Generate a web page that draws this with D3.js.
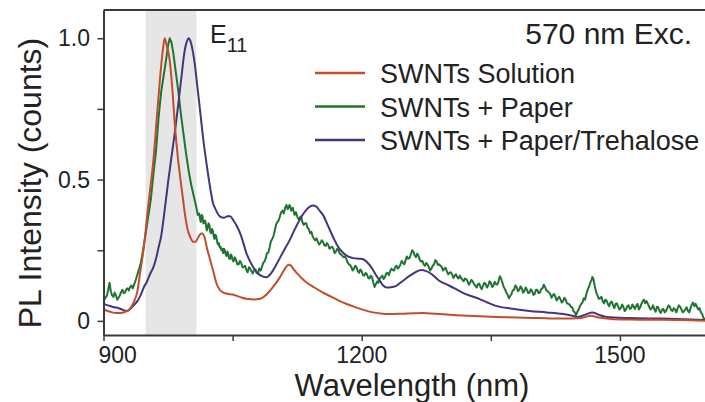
<!DOCTYPE html>
<html>
<head>
<meta charset="utf-8">
<script src="https://cdn.jsdelivr.net/npm/d3@7"></script>
<style>
  html, body { margin: 0; padding: 0; background: #fff; }
  svg { display: block; }
  text { font-family: "Liberation Sans", Arial, Helvetica, sans-serif; fill: #222; }
</style>
</head>
<body>
<svg id="chart" width="705" height="402"></svg>
<script>
// PL spectra, 570 nm excitation: [wavelength (nm), normalised intensity]
const solution = [
  [900,0.040],[905,0.035],[910,0.030],[915,0.028],[920,0.028],[925,0.032],[930,0.040],[935,0.065],
  [939,0.100],[943,0.180],[946,0.240],[948,0.290],[951,0.380],[954,0.460],[958,0.570],[962,0.720],
  [966,0.870],[969,0.960],[971,1.000],[973,0.980],[977,0.920],[980,0.820],[983,0.690],[986,0.590],
  [989,0.510],[992,0.440],[995,0.370],[998,0.320],[1001,0.295],[1004,0.280],[1007,0.280],[1010,0.295],
  [1014,0.310],[1017,0.300],[1020,0.260],[1024,0.215],[1028,0.170],[1031,0.135],[1035,0.110],[1039,0.100],
  [1045,0.095],[1050,0.093],[1058,0.085],[1066,0.078],[1075,0.076],[1082,0.078],[1090,0.095],[1097,0.120],
  [1103,0.145],[1108,0.170],[1112,0.190],[1115,0.199],[1118,0.195],[1121,0.182],[1125,0.168],[1130,0.152],
  [1136,0.136],[1145,0.118],[1155,0.100],[1165,0.085],[1174,0.071],[1184,0.058],[1194,0.047],[1204,0.037],
  [1213,0.030],[1222,0.026],[1232,0.024],[1245,0.025],[1260,0.027],[1270,0.028],[1280,0.026],[1295,0.023],
  [1310,0.020],[1330,0.017],[1356,0.014],[1380,0.012],[1405,0.010],[1433,0.008],[1455,0.010],[1466,0.018],
  [1475,0.012],[1490,0.007],[1511,0.005],[1540,0.004],[1570,0.003],[1600,0.000]
];

const paper = [
  [900,0.070],[902,0.080],[904,0.090],[905.5,0.110],[907,0.135],[908.5,0.105],[910,0.090],[911.5,0.085],
  [913,0.100],[914.5,0.090],[916,0.075],[917.5,0.082],[919,0.090],[920.5,0.102],[922,0.110],[923.5,0.098],
  [925,0.100],[926.5,0.112],[928,0.115],[929.5,0.108],[931,0.120],[932.5,0.125],[934,0.115],[935.5,0.128],
  [937,0.140],[940,0.170],[943,0.200],[946,0.250],[949,0.310],[952,0.370],[955,0.430],[958,0.520],
  [961,0.600],[964,0.720],[967,0.810],[970,0.870],[973,0.930],[975,0.975],[977,1.000],[979,0.985],
  [981,0.950],[984,0.880],[987,0.810],[990,0.730],[993,0.660],[996,0.590],[999,0.530],[1002,0.480],
  [1005,0.440],[1008,0.400],[1009.5,0.375],[1011,0.380],[1012,0.365],[1013,0.350],[1014,0.375],[1015,0.370],
  [1016,0.345],[1017,0.350],[1018,0.355],[1019,0.340],[1020,0.320],[1021,0.330],[1022,0.345],[1023,0.340],
  [1024,0.315],[1025,0.310],[1026,0.325],[1027,0.320],[1028,0.300],[1029,0.290],[1030,0.305],[1031,0.300],
  [1032,0.280],[1033,0.270],[1034,0.275],[1035,0.260],[1036,0.262],[1037,0.250],[1038,0.255],[1039,0.240],
  [1040,0.255],[1041,0.250],[1042,0.235],[1043,0.230],[1044,0.245],[1045,0.235],[1046,0.220],[1047,0.220],
  [1048,0.235],[1049,0.230],[1050,0.215],[1051,0.210],[1052.5,0.225],[1054,0.215],[1055.5,0.200],[1057,0.200],
  [1058.5,0.212],[1060,0.205],[1061.5,0.190],[1063,0.190],[1064.5,0.195],[1066,0.180],[1067.5,0.172],[1069,0.190],
  [1070.5,0.185],[1072,0.175],[1073.5,0.168],[1075,0.180],[1076.5,0.182],[1078,0.170],[1079.5,0.168],[1081,0.185],
  [1082.5,0.178],[1084,0.190],[1085.5,0.205],[1087,0.210],[1088.5,0.222],[1090,0.240],[1091.5,0.242],[1093,0.260],
  [1094.5,0.282],[1096,0.290],[1097.5,0.300],[1099,0.320],[1100.5,0.340],[1102,0.350],[1103.5,0.355],[1105,0.370],
  [1106.5,0.385],[1108,0.390],[1109.5,0.380],[1111,0.400],[1112.5,0.410],[1114,0.395],[1115,0.400],[1116,0.410],
  [1117,0.405],[1118,0.390],[1119,0.395],[1120,0.400],[1121,0.385],[1122,0.375],[1123.5,0.385],[1125,0.370],
  [1126.5,0.360],[1128,0.365],[1129.5,0.370],[1131,0.350],[1132.5,0.340],[1134,0.345],[1135.5,0.345],[1137,0.330],
  [1138.5,0.325],[1140,0.310],[1141.5,0.315],[1143,0.300],[1144.5,0.290],[1146,0.285],[1147.5,0.292],[1149,0.280],
  [1150.5,0.270],[1152,0.275],[1153.5,0.285],[1155,0.280],[1156.5,0.268],[1158,0.265],[1159.5,0.275],[1161,0.270],
  [1162.5,0.255],[1164,0.260],[1165.5,0.262],[1167,0.255],[1168.5,0.240],[1170,0.245],[1171.5,0.255],[1173,0.250],
  [1174.5,0.238],[1176,0.235],[1177.5,0.230],[1179,0.225],[1180.5,0.228],[1182,0.220],[1183.5,0.208],[1185,0.200],
  [1186.5,0.198],[1188,0.190],[1189.5,0.178],[1191,0.185],[1192.5,0.195],[1194,0.190],[1195.5,0.175],[1197,0.170],
  [1198.5,0.182],[1200,0.175],[1201.5,0.162],[1203,0.160],[1204.5,0.170],[1206,0.165],[1207.5,0.152],[1209,0.150],
  [1210.5,0.160],[1212,0.155],[1213.5,0.135],[1215,0.120],[1216.5,0.130],[1218,0.140],[1219.5,0.135],[1221,0.150],
  [1222.5,0.155],[1224,0.160],[1225.5,0.148],[1227,0.155],[1228.5,0.168],[1230,0.170],[1231.5,0.162],[1233,0.175],
  [1234.5,0.185],[1236,0.180],[1237.5,0.178],[1239,0.190],[1240.5,0.195],[1242,0.185],[1243.5,0.190],[1245,0.200],
  [1246.5,0.212],[1248,0.205],[1249.5,0.200],[1251,0.215],[1252.5,0.228],[1254,0.220],[1255.5,0.222],[1257,0.235],
  [1258.5,0.250],[1260,0.245],[1261.5,0.232],[1263,0.225],[1264.5,0.238],[1266,0.230],[1267.5,0.215],[1269,0.210],
  [1270.5,0.212],[1272,0.200],[1273.5,0.195],[1275,0.205],[1276.5,0.200],[1278,0.190],[1279.5,0.178],[1281,0.185],
  [1282.5,0.195],[1284,0.200],[1285.5,0.215],[1287,0.210],[1288.5,0.198],[1290,0.200],[1291.5,0.195],[1293,0.190],
  [1294.5,0.178],[1296,0.185],[1297.5,0.188],[1299,0.175],[1300.5,0.165],[1302,0.170],[1303.5,0.172],[1305,0.165],
  [1306.5,0.152],[1308,0.160],[1309.5,0.165],[1311,0.155],[1312.5,0.150],[1314,0.160],[1315.5,0.152],[1317,0.145],
  [1318.5,0.140],[1320,0.150],[1321.5,0.148],[1323,0.140],[1324.5,0.128],[1326,0.135],[1327.5,0.145],[1329,0.140],
  [1330.5,0.130],[1332,0.125],[1333.5,0.118],[1335,0.130],[1336.5,0.132],[1338,0.120],[1339.5,0.112],[1341,0.125],
  [1342.5,0.135],[1344,0.130],[1345.5,0.118],[1347,0.125],[1348.5,0.140],[1350,0.135],[1351.5,0.120],[1353,0.125],
  [1354.5,0.138],[1356,0.130],[1357.5,0.128],[1359,0.140],[1360.5,0.158],[1362,0.150],[1363.5,0.135],[1365,0.120],
  [1366.5,0.112],[1368,0.100],[1369.5,0.092],[1371,0.080],[1372.5,0.088],[1374,0.095],[1375.5,0.108],[1377,0.110],
  [1378.5,0.125],[1380,0.120],[1381.5,0.105],[1383,0.110],[1384.5,0.122],[1386,0.115],[1387.5,0.100],[1389,0.105],
  [1390.5,0.118],[1392,0.110],[1393.5,0.098],[1395,0.100],[1396.5,0.112],[1398,0.105],[1399.5,0.092],[1401,0.095],
  [1402.5,0.110],[1404,0.110],[1405.5,0.098],[1407,0.100],[1408.5,0.112],[1410,0.115],[1411.5,0.128],[1413,0.120],
  [1414.5,0.108],[1416,0.105],[1417.5,0.100],[1419,0.095],[1420.5,0.082],[1422,0.090],[1423.5,0.095],[1425,0.085],
  [1426.5,0.072],[1428,0.080],[1429.5,0.085],[1431,0.075],[1432.5,0.065],[1434,0.070],[1435.5,0.082],[1437,0.075],
  [1438.5,0.062],[1440,0.060],[1441.5,0.058],[1443,0.050],[1444.5,0.048],[1446,0.035],[1447.5,0.030],[1449,0.020],
  [1450.5,0.032],[1452,0.040],[1453.5,0.052],[1455,0.060],[1456.5,0.065],[1458,0.080],[1459.5,0.075],[1461,0.095],
  [1462.5,0.110],[1464,0.120],[1465.5,0.135],[1467,0.145],[1468,0.155],[1469,0.150],[1470,0.135],[1471,0.120],
  [1472.5,0.100],[1474,0.090],[1475.5,0.078],[1477,0.080],[1478.5,0.085],[1480,0.070],[1481.5,0.062],[1483,0.075],
  [1484.5,0.072],[1486,0.060],[1487.5,0.052],[1489,0.065],[1490.5,0.068],[1492,0.055],[1493.5,0.045],[1495,0.060],
  [1496.5,0.062],[1498,0.050],[1499.5,0.040],[1501,0.045],[1502.5,0.058],[1504,0.050],[1505.5,0.035],[1507,0.040],
  [1508.5,0.052],[1510,0.055],[1511.5,0.042],[1513,0.045],[1514.5,0.058],[1516,0.050],[1517.5,0.042],[1519,0.055],
  [1520.5,0.060],[1522,0.040],[1523.5,0.048],[1525,0.060],[1526.5,0.070],[1528,0.075],[1529.5,0.062],[1531,0.070],
  [1532.5,0.060],[1534,0.050],[1535.5,0.040],[1537,0.045],[1538.5,0.055],[1540,0.040],[1541.5,0.032],[1543,0.050],
  [1544.5,0.048],[1546,0.035],[1547.5,0.028],[1549,0.040],[1550.5,0.042],[1552,0.030],[1553.5,0.035],[1555,0.045],
  [1556.5,0.055],[1558,0.050],[1559.5,0.038],[1561,0.035],[1562.5,0.045],[1564,0.040],[1565.5,0.030],[1567,0.045],
  [1568.5,0.055],[1570,0.050],[1571.5,0.040],[1573,0.030],[1574.5,0.035],[1576,0.040],[1577.5,0.048],[1579,0.035],
  [1580.5,0.030],[1582,0.045],[1583.5,0.058],[1585,0.065],[1586.5,0.052],[1588,0.060],[1589.5,0.050],[1591,0.040],
  [1592.5,0.045],[1594,0.030],[1595.5,0.025],[1597,0.010],[1598.5,0.008],[1600,0.000]
];

const trehalose = [
  [900,0.060],[905,0.055],[910,0.050],[915,0.047],[920,0.042],[927,0.035],[932,0.045],[936,0.058],
  [939,0.068],[943,0.090],[947,0.120],[950,0.136],[954,0.165],[958,0.190],[961,0.220],[964,0.260],
  [967,0.300],[971,0.390],[975,0.490],[979,0.580],[983,0.670],[987,0.770],[991,0.875],[994,0.950],
  [997,0.990],[999,1.000],[1001,0.990],[1004,0.950],[1006,0.910],[1009,0.830],[1012,0.750],[1016,0.640],
  [1020,0.550],[1024,0.470],[1027,0.420],[1031,0.390],[1035,0.370],[1040,0.365],[1044,0.370],[1047,0.370],
  [1051,0.355],[1055,0.335],[1060,0.300],[1066,0.240],[1072,0.200],[1078,0.172],[1083,0.160],[1089,0.154],
  [1095,0.170],[1101,0.200],[1108,0.240],[1116,0.284],[1124,0.335],[1132,0.378],[1138,0.400],[1143,0.408],
  [1147,0.405],[1151,0.390],[1155,0.375],[1161,0.335],[1167,0.295],[1172,0.265],[1178,0.242],[1184,0.228],
  [1190,0.222],[1196,0.220],[1201,0.219],[1206,0.208],[1211,0.190],[1216,0.165],[1221,0.142],[1225,0.125],
  [1229,0.118],[1234,0.119],[1240,0.124],[1248,0.142],[1256,0.160],[1263,0.173],[1269,0.180],[1275,0.176],
  [1281,0.166],[1290,0.142],[1298,0.130],[1308,0.115],[1317,0.100],[1327,0.088],[1337,0.077],[1346,0.065],
  [1356,0.053],[1375,0.043],[1395,0.035],[1415,0.030],[1434,0.024],[1445,0.018],[1451,0.014],[1460,0.022],
  [1468,0.030],[1475,0.022],[1484,0.014],[1511,0.010],[1549,0.008],[1575,0.006],[1600,0.003]
];

const seriesNames = ["SWNTs Solution", "SWNTs + Paper", "SWNTs + Paper/Trehalose"];
const seriesColors = ["#bf4e2c", "#1f7430", "#45357f"];
const xTicksMajor = [900, 1200, 1500];
const xTicksMinor = [1050, 1350];
const yTicksMajor = [0, 0.5, 1.0];
const yTickLabels = ["0", "0.5", "1.0"];
const yTicksMinor = [0.25, 0.75];
const e11Band = [949, 1008];

const svg = d3.select("#chart");
const plotLeft = 103.5, plotRight = 706, plotTop = 10, plotBottom = 335;

const x = d3.scaleLinear().domain([900, 1600]).range([plotLeft, plotRight]);
const y = d3.scaleLinear().domain([-0.05, 1.1]).range([plotBottom, plotTop]);

// E11 emission window
svg.append("rect")
  .attr("x", x(e11Band[0])).attr("y", plotTop)
  .attr("width", x(e11Band[1]) - x(e11Band[0]))
  .attr("height", plotBottom - plotTop)
  .attr("fill", "#e6e6e6");

// spectra
const line = d3.line().x(d => x(d[0])).y(d => y(d[1]));
const series = [solution, paper, trehalose];
const drawOrder = [1, 2, 0];
drawOrder.forEach(i => {
  const gen = i === 1 ? line.curve(d3.curveLinear) : line.curve(d3.curveMonotoneX);
  svg.append("path")
    .attr("d", gen(series[i]))
    .attr("fill", "none")
    .attr("stroke", seriesColors[i])
    .attr("stroke-width", 2)
    .attr("stroke-linejoin", "round");
});

// frame: top border, left and bottom axes
const axisColor = "#3a3a3a";
svg.append("line").attr("x1", plotLeft).attr("x2", 705).attr("y1", plotTop).attr("y2", plotTop)
  .attr("stroke", axisColor).attr("stroke-width", 2);

const xAxis = svg.append("g").attr("transform", `translate(0,${plotBottom})`)
  .call(d3.axisBottom(x).tickValues(xTicksMajor.concat(xTicksMinor)).tickFormat("").tickSize(6).tickSizeOuter(0));
const yAxis = svg.append("g").attr("transform", `translate(${plotLeft},0)`)
  .call(d3.axisLeft(y).tickValues(yTicksMajor.concat(yTicksMinor)).tickFormat("").tickSize(6).tickSizeOuter(0));
[xAxis, yAxis].forEach(g => {
  g.select(".domain").attr("stroke", axisColor).attr("stroke-width", 2);
  g.selectAll(".tick line").attr("stroke", axisColor).attr("stroke-width", 1.5);
});

// tick labels
svg.selectAll(".xlab").data(xTicksMajor).enter().append("text")
  .attr("x", (d, i) => i === 0 ? x(d) - 5 : x(d))
  .attr("y", 363)
  .attr("text-anchor", (d, i) => i === 0 ? "start" : "middle")
  .attr("font-size", 23)
  .text(d => d);
svg.selectAll(".ylab").data(yTicksMajor).enter().append("text")
  .attr("x", 90)
  .attr("y", d => y(d) + 8)
  .attr("text-anchor", "end")
  .attr("font-size", 23)
  .text((d, i) => yTickLabels[i]);

// axis titles
svg.append("text").attr("x", 412).attr("y", 396).attr("text-anchor", "middle")
  .attr("font-size", 31).text("Wavelength (nm)");
svg.append("text").attr("transform", "translate(41,183) rotate(-90)").attr("text-anchor", "middle")
  .attr("font-size", 32).text("PL Intensity (counts)");

// annotations
const e11 = svg.append("text").attr("x", 210).attr("y", 43).attr("font-size", 25);
e11.append("tspan").text("E");
e11.append("tspan").attr("dy", 9).attr("font-size", 20).text("11");
svg.append("text").attr("x", 692).attr("y", 44).attr("text-anchor", "end")
  .attr("font-size", 30).text("570 nm Exc.");

// legend
const legendY = [73, 106.5, 140];
seriesNames.forEach((name, i) => {
  svg.append("line").attr("x1", 315).attr("x2", 365).attr("y1", legendY[i]).attr("y2", legendY[i])
    .attr("stroke", seriesColors[i]).attr("stroke-width", 2.5);
  svg.append("text").attr("x", 380).attr("y", legendY[i] + 10).attr("font-size", 27).text(name);
});
</script>
</body>
</html>
